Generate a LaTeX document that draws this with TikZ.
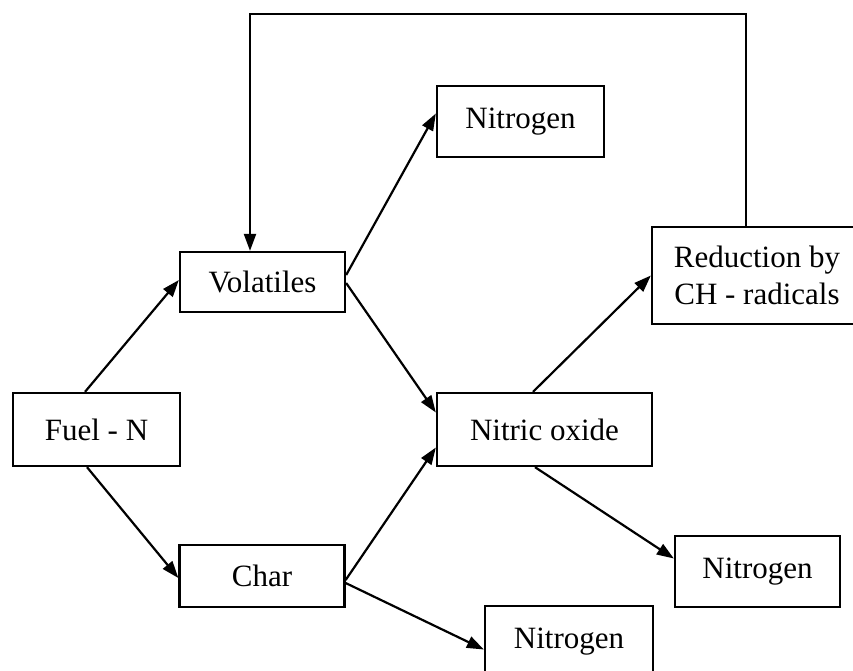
\documentclass[tikz,border=0pt]{standalone}
\usepackage{fontspec}
\setmainfont{Liberation Serif}
\usetikzlibrary{arrows.meta}
\begin{document}
\begin{tikzpicture}[x=1pt,y=-1pt,
  box/.style={draw, line width=2.3pt, inner sep=0pt, font=\fontsize{31}{37}\selectfont, align=center},
  conn/.style={line width=2.2pt, -{Triangle[length=17pt,width=12pt]}}]
\useasboundingbox (0,0) rectangle (853,670);
\node[box, minimum width=167pt, minimum height=73pt] (fuel) at (96.5,429.5) {Fuel - N};
\node[box, minimum width=165pt, minimum height=60pt] (vol) at (262.5,282) {Volatiles};
\node[box, minimum width=165pt, minimum height=62pt] (char) at (262,576) {Char};
\node[box, minimum width=167pt, minimum height=71pt] (ntop) at (520.5,121.5) {Nitrogen};
\node[box, minimum width=215pt, minimum height=73pt] (no) at (544.5,429.5) {Nitric oxide};
\node[box, minimum width=210pt, minimum height=97pt] (red) at (757,275.5) {Reduction by\\CH - radicals};
\node[box, minimum width=165pt, minimum height=71pt] (nright) at (757.5,571.5) {Nitrogen};
\node[box, minimum width=168pt, minimum height=71pt] (nbot) at (569,641.5) {Nitrogen};
\coordinate (tl) at (250,14);
\draw[conn] ([xshift=-11.5pt]fuel.north) -- ([yshift=2pt]vol.west);
\draw[conn] ([xshift=-9.5pt]fuel.south) -- ([yshift=-2pt]char.west);
\draw[conn] ([yshift=7pt]vol.east) -- ([yshift=8pt]ntop.west);
\draw[conn] ([yshift=-1pt]vol.east) -- ([yshift=17pt]no.west);
\draw[conn] ([yshift=-4pt]char.east) -- ([yshift=-18pt]no.west);
\draw[conn] ([yshift=-7pt]char.east) -- ([yshift=-8pt]nbot.west);
\draw[conn] ([xshift=-11.5pt]no.north) -- (red.west);
\draw[conn] ([xshift=-9.5pt]no.south) -- ([yshift=13pt]nright.west);
\draw[conn] ([xshift=-11pt]red.north) |- (tl) -- ([xshift=-12.5pt]vol.north);
\end{tikzpicture}
\end{document}
